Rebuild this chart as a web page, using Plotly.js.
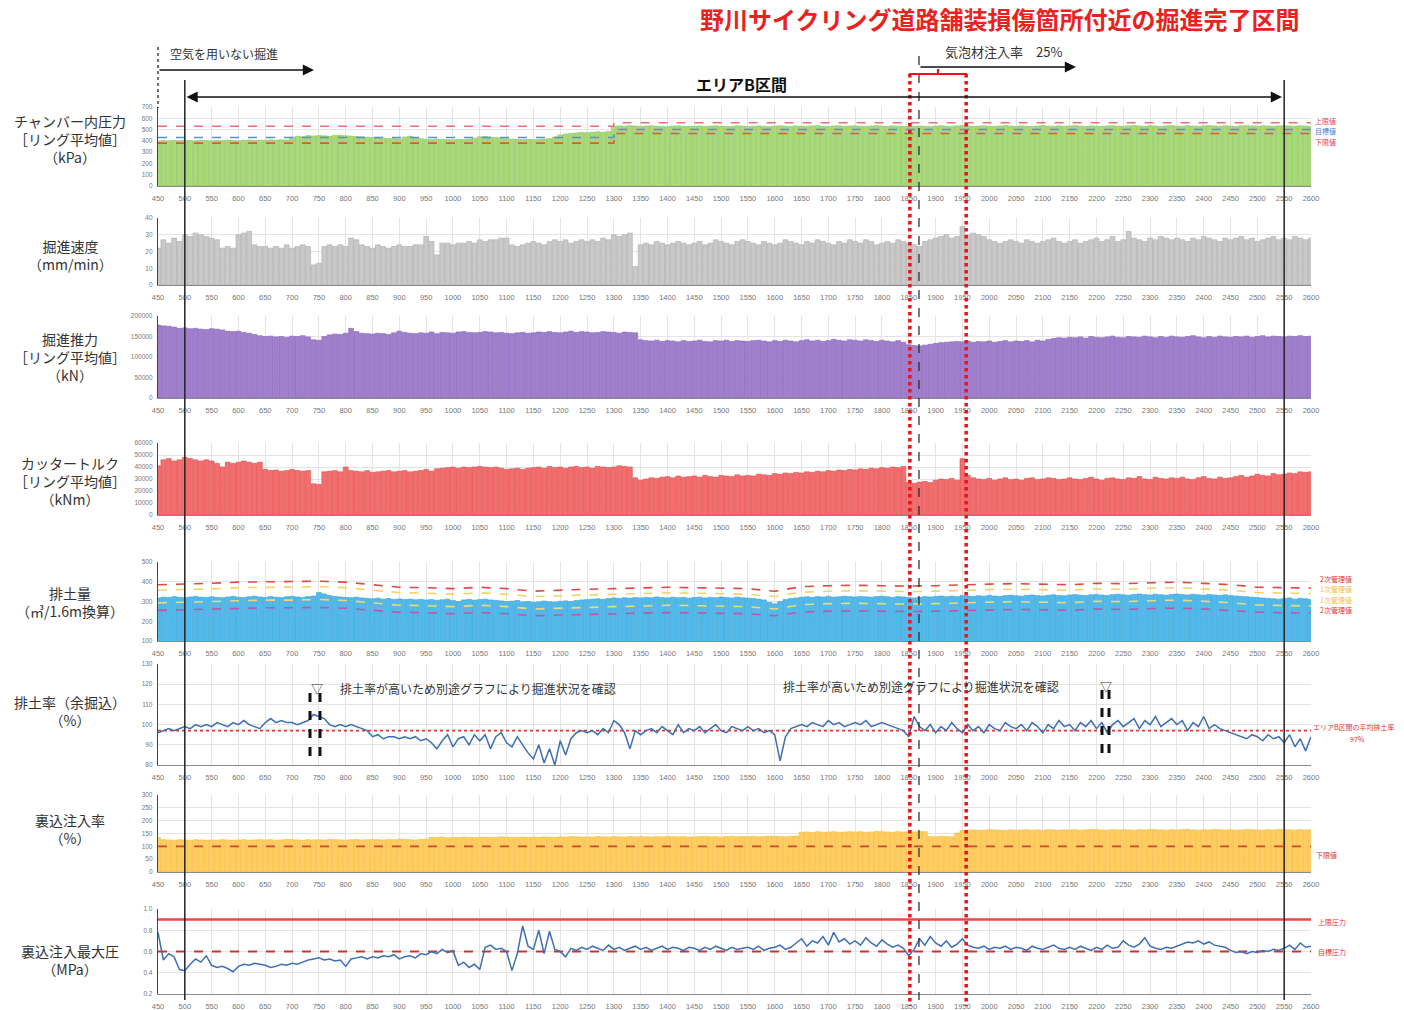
<!DOCTYPE html>
<html><head><meta charset="utf-8">
<script src="https://cdn.plot.ly/plotly-3.0.1.min.js"></script>
<style>html,body{margin:0;padding:0;background:#fff}#chart{width:1404px;height:1010px}</style>
</head><body><div id="chart"></div><script>
// ---------- DATA (one value per 10 rings, from ring 450 to 2600) ----------
const RING_START = 450, RING_STEP = 10;

const chamberPressure = [
395,402,398,404,400,406,401,399,405,402,
400,404,401,406,403,399,405,407,402,404,
405,408,404,410,407,432,441,437,446,443,
447,444,440,449,451,445,442,439,436,432,
430,427,424,421,419,417,434,441,426,420,
414,411,416,413,411,409,413,411,416,423,
436,439,433,430,424,419,415,413,411,414,
411,413,416,420,434,452,461,466,470,476,
472,477,481,476,483,528,533,530,535,532,
529,531,534,530,527,525,531,533,529,527,
530,532,528,531,534,530,527,529,533,531,
528,530,533,529,526,531,534,530,528,532,
531,529,533,535,530,528,532,534,529,531,
533,530,528,532,535,531,529,533,530,528,
526,529,532,530,527,531,534,530,528,533,
535,532,529,531,534,530,528,532,535,531,
529,533,530,528,532,535,531,529,533,530,
532,535,531,529,533,530,528,532,534,531,
529,533,536,532,530,534,531,529,533,535,
532,530,534,531,529,533,536,532,530,534,
531,529,533,535,532,530,534,531,529,533,
535,532,530,534,531,529];

const speed = [
22,27,25,28,26,30,29,31,30,29,
28,27,22,23,22,30,31,32,24,23,
23,22,23,22,24,22,23,24,23,12,
13,23,24,23,24,23,28,27,24,23,
22,24,23,22,23,24,23,23,24,24,
29,26,18,25,25,24,25,25,26,25,
27,26,27,27,28,28,24,23,24,25,
26,25,24,26,27,26,27,25,26,27,
26,27,26,28,27,30,29,30,31,11,
24,25,24,26,25,24,25,26,25,24,
25,26,24,25,27,26,25,24,26,27,
26,25,24,26,25,24,25,27,26,25,
24,26,25,27,26,25,24,26,25,27,
26,25,27,26,24,25,26,25,27,26,
25,24,23,26,27,28,29,30,28,29,
35,30,31,30,29,27,26,25,26,27,
26,25,27,26,25,26,27,28,26,25,
26,27,25,26,27,28,26,27,29,26,
27,32,28,27,26,28,27,29,28,27,
28,27,26,28,27,29,28,27,26,28,
27,28,29,27,28,26,27,28,29,27,
28,27,29,28,27,28];

const thrust = [
178000,176000,175000,173000,170000,171000,169000,170000,168000,167000,
169000,168000,166000,163000,162000,163000,160000,158000,155000,152000,
150000,151000,149000,150000,148000,151000,150000,152000,149000,142000,
141000,150000,154000,156000,155000,158000,170000,162000,158000,157000,
156000,158000,157000,155000,159000,163000,160000,158000,157000,159000,
158000,161000,157000,160000,159000,158000,161000,162000,160000,159000,
160000,162000,161000,159000,160000,158000,157000,159000,160000,158000,
159000,161000,160000,162000,160000,159000,161000,163000,160000,162000,
161000,159000,160000,162000,161000,160000,158000,161000,160000,159000,
142000,140000,139000,141000,138000,140000,139000,137000,140000,138000,
139000,141000,138000,137000,140000,139000,141000,138000,140000,139000,
138000,140000,141000,139000,137000,140000,138000,141000,139000,137000,
140000,142000,139000,141000,138000,140000,143000,141000,139000,142000,
141000,139000,142000,140000,138000,141000,139000,137000,140000,136000,
130000,128000,127000,129000,131000,133000,135000,136000,137000,138000,
137000,139000,136000,138000,137000,139000,136000,138000,140000,137000,
139000,138000,140000,137000,141000,139000,143000,145000,147000,146000,
148000,147000,149000,146000,150000,148000,147000,149000,151000,148000,
147000,150000,149000,148000,151000,149000,147000,150000,148000,151000,
149000,148000,150000,152000,149000,147000,150000,148000,151000,149000,
148000,150000,149000,151000,148000,150000,152000,149000,151000,150000,
149000,151000,150000,152000,150000,151000];

const torque = [
41000,46000,47000,45000,46000,48000,47000,46000,45000,46000,
45000,43000,40000,44000,43000,44000,45000,44000,43000,44000,
38000,37000,37500,36500,37000,38000,37000,36500,37000,26000,
25500,36000,36500,37000,36000,40000,37000,36500,36000,37000,
35500,36000,36500,37000,36000,36500,37000,36000,36500,37000,
38000,36500,38500,39000,39500,40000,39000,40000,39500,40000,
40500,40000,39500,40000,39000,38000,38500,39000,38000,39000,
39500,40000,39000,40500,39500,40000,39000,40000,40500,39500,
40000,39000,40500,40000,39500,40000,41000,40500,40000,31000,
29000,30000,31000,30500,31500,32000,31000,32500,31500,32000,
32500,31500,33000,32000,31500,33000,32500,32000,33500,32500,
33000,32500,34000,33500,33000,34500,34000,35000,34500,35500,
35000,36000,35500,36500,36000,37000,36500,37500,37000,38000,
37500,38500,38000,39000,38500,39500,39000,40000,39500,40500,
27000,26500,27500,28000,27000,29000,30000,29500,30500,29000,
47000,33000,31000,30000,29500,30500,29000,30000,31000,29500,
30000,29000,30500,31000,29500,30000,31000,30500,29500,30000,
31000,30000,29500,30500,31500,30000,29000,30500,31000,30000,
29500,31000,30500,32000,30000,29500,31500,30500,30000,31000,
30500,31500,30000,29500,31000,32000,30500,30000,31500,30500,
31000,32000,33000,31500,32500,34000,33000,32500,34500,33500,
34000,35000,34500,36000,35500,36000];

const muckVolume = [
318,322,320,325,321,319,323,326,322,320,
324,321,319,323,326,322,320,324,327,323,
321,325,322,320,324,326,323,321,325,328,
345,338,330,326,323,321,319,322,318,316,
314,317,312,315,311,313,310,312,309,311,
308,310,306,309,312,305,300,308,311,307,
310,312,308,306,303,300,302,305,298,300,
296,298,302,299,297,301,303,300,305,308,
310,312,314,311,315,318,316,319,317,320,
318,321,319,323,320,318,322,319,321,317,
320,322,318,321,319,323,320,318,322,319,
317,315,312,308,296,288,300,310,315,318,
322,324,321,325,323,326,322,324,327,325,
323,326,324,322,325,327,324,321,325,323,
320,318,322,325,323,326,328,324,327,325,
330,328,326,329,327,331,328,326,330,332,
329,327,331,333,330,328,332,334,331,329,
333,335,332,330,334,336,333,331,335,337,
334,332,336,338,335,333,337,334,332,336,
338,335,333,337,334,332,336,333,331,334,
330,328,326,324,322,320,318,316,314,312,
315,318,312,316,314,310];

const muckRatio = [
96,97,98,97,98,99,98,100,99,100,
99,101,100,99,101,100,102,100,99,98,
101,103,101,102,101,101,100,101,102,105,
104,103,100,99,100,99,100,99,98,97,
94,95,93,94,94,93,94,93,94,92,
93,91,88,92,95,89,93,94,90,95,
92,95,88,94,96,91,89,94,90,86,
83,90,81,88,80,92,85,93,96,97,
96,97,95,98,96,102,100,96,88,97,
95,97,98,96,99,97,95,100,96,98,
97,99,96,98,100,97,96,99,98,97,
99,97,98,96,97,95,82,94,98,99,
100,99,101,100,99,102,100,101,99,100,
101,100,102,99,100,101,100,99,98,97,
94,104,99,97,100,96,99,97,101,98,
96,100,97,99,96,100,98,97,101,99,
98,100,97,101,99,96,100,98,102,99,
100,97,101,99,102,98,101,96,100,102,
99,101,103,98,102,100,104,99,101,103,
100,102,97,101,99,104,98,100,98,97,
96,95,94,93,95,94,92,95,93,94,
91,95,89,93,87,94];

const groutRate = [
135,126,125,124,126,125,124,126,125,124,
125,124,126,125,124,125,126,124,125,126,
125,126,124,125,127,126,125,124,126,125,
126,125,127,126,125,124,126,127,125,126,
127,126,125,127,126,128,127,126,125,127,
128,135,134,136,133,135,134,136,135,134,
135,136,134,135,137,136,135,134,136,135,
136,135,137,136,135,137,136,138,137,136,
137,136,138,137,136,138,137,136,138,137,
138,137,136,138,137,139,138,137,138,136,
137,138,139,137,138,136,138,139,137,138,
138,139,137,138,140,139,138,137,139,140,
155,156,154,157,155,156,157,155,156,157,
156,157,155,156,158,157,156,155,157,156,
157,156,158,157,138,137,139,138,137,152,
162,163,164,162,163,165,164,163,162,164,
163,164,165,163,164,162,165,164,163,164,
164,165,163,164,166,165,164,163,165,164,
165,164,163,165,164,166,165,164,163,165,
164,165,166,164,163,165,164,166,165,164,
165,163,164,166,165,164,163,165,164,166,
165,164,163,165,164,165];

const groutPressure = [
0.78,0.52,0.58,0.55,0.43,0.42,0.48,0.53,0.50,0.56,
0.47,0.45,0.46,0.44,0.41,0.46,0.48,0.47,0.49,0.48,
0.47,0.45,0.46,0.48,0.47,0.49,0.48,0.50,0.52,0.53,
0.54,0.52,0.53,0.51,0.52,0.46,0.53,0.54,0.55,0.53,
0.55,0.54,0.56,0.55,0.57,0.53,0.55,0.56,0.54,0.58,
0.57,0.60,0.58,0.62,0.59,0.61,0.47,0.50,0.45,0.48,
0.43,0.64,0.66,0.62,0.63,0.60,0.42,0.58,0.84,0.65,
0.62,0.80,0.58,0.79,0.62,0.60,0.55,0.63,0.61,0.64,
0.62,0.65,0.63,0.61,0.66,0.62,0.64,0.61,0.63,0.65,
0.62,0.64,0.61,0.63,0.65,0.62,0.64,0.63,0.61,0.64,
0.63,0.61,0.64,0.62,0.65,0.63,0.61,0.64,0.62,0.63,
0.64,0.62,0.65,0.61,0.63,0.64,0.66,0.62,0.64,0.68,
0.72,0.65,0.70,0.68,0.74,0.66,0.78,0.69,0.72,0.67,
0.70,0.66,0.73,0.68,0.65,0.71,0.67,0.64,0.66,0.63,
0.56,0.62,0.72,0.66,0.74,0.68,0.65,0.70,0.64,0.67,
0.72,0.66,0.64,0.63,0.65,0.62,0.64,0.63,0.65,0.62,
0.64,0.63,0.61,0.65,0.63,0.62,0.64,0.66,0.63,0.62,
0.64,0.62,0.65,0.63,0.61,0.64,0.62,0.66,0.63,0.64,
0.70,0.66,0.64,0.67,0.73,0.65,0.63,0.62,0.64,0.63,
0.65,0.67,0.69,0.68,0.70,0.67,0.69,0.66,0.65,0.64,
0.61,0.59,0.60,0.58,0.60,0.59,0.61,0.60,0.62,0.61,
0.63,0.66,0.62,0.68,0.64,0.65];

// chamber pressure limits (step change at ring 1300)
const limitRings = [450, 1300, 2600];
const chamberUpper  = [530, 560, 560];
const chamberTarget = [430, 500, 500];
const chamberLower  = [380, 465, 465];

// muck volume management values, every 50 rings
const mgmtRings = [450,500,550,600,650,700,750,800,850,900,950,1000,1050,1100,1150,1200,1250,1300,1350,1400,
  1450,1500,1550,1600,1650,1700,1750,1800,1850,1900,1950,2000,2050,2100,2150,2200,2250,2300,2350,2400,2450,2500,2550,2600];
const muckUpper2 = [385,388,392,398,400,400,403,398,385,372,370,365,372,365,352,358,362,365,368,372,
  370,368,365,352,375,380,382,380,378,380,385,388,390,388,385,392,390,395,398,392,385,372,370,368];
const muckUpper1 = [357,360,364,370,372,372,375,370,357,345,342,337,344,337,325,330,334,337,340,344,
  342,340,337,325,347,352,354,352,350,352,357,360,362,360,357,364,362,367,370,364,357,345,342,340];
const muckLower1 = [293,296,300,305,307,307,310,305,293,281,279,274,281,274,262,267,271,274,277,281,
  279,277,274,262,284,289,291,289,287,289,294,297,299,297,294,301,299,304,307,301,294,282,279,277];
const muckLower2 = [255,258,262,266,268,268,270,266,255,245,243,238,244,238,228,232,236,238,241,244,
  243,241,238,228,247,251,253,251,249,251,255,258,260,258,255,262,260,264,267,262,255,246,243,241];

const avgMuckRatio = 97;
const groutLower = 100;
const pressureUpper = 0.9;
const pressureTarget = 0.6;

const xTicks = [];
for (let t = 450; t <= 2600; t += 50) xTicks.push(t);
const rings = chamberPressure.map((_, i) => RING_START + i * RING_STEP);

// ---------- LAYOUT HELPERS ----------
const W = 1404, H = 1010;
const px = v => v / W;
const py = v => 1 - v / H;
const XDOM = [px(158), px(1311)];
const JP = '"Noto Sans CJK JP", "Noto Sans", sans-serif';

const panels = [
  {top:107, bot:186, r:[0,700], d:100, fmt:'d'},
  {top:218, bot:285, r:[0,40], d:10, fmt:'d'},
  {top:316, bot:398, r:[0,200000], d:50000, fmt:'d'},
  {top:443, bot:515, r:[0,60000], d:10000, fmt:'d'},
  {top:562, bot:641, r:[100,500], d:100, fmt:'d'},
  {top:664, bot:765, r:[80,130], d:10, fmt:'d'},
  {top:795, bot:872, r:[0,300], d:50, fmt:'d'},
  {top:909, bot:994, r:[0.2,1.0], d:0.2, fmt:'.1f'}
];

const layout = {
  width: W, height: H, margin: {l:0, r:0, t:0, b:0},
  paper_bgcolor: '#fff', plot_bgcolor: '#fff',
  showlegend: false, bargap: 0.12,
  font: {family: JP, color: '#333'},
  shapes: [], annotations: []
};

panels.forEach((p, i) => {
  const n = i + 1;
  layout['xaxis' + n] = {
    domain: XDOM, range: [450, 2600], anchor: 'y' + n,
    tickvals: xTicks, ticktext: xTicks.map(String),
    showgrid: true, gridcolor: '#e4e4e4', gridwidth: 1,
    showline: true, linecolor: '#8a8a8a', linewidth: 1.2,
    ticks: 'outside', ticklen: 5, tickcolor: 'rgba(0,0,0,0)',
    tickfont: {size: 7.5, color: '#777', family: 'Liberation Sans, Arial, sans-serif'},
    zeroline: false, fixedrange: true
  };
  layout['yaxis' + n] = {
    domain: [py(p.bot), py(p.top)], range: p.r, anchor: 'x' + n,
    dtick: p.d, tick0: p.r[0], tickformat: p.fmt,
    showgrid: true, gridcolor: '#e4e4e4', gridwidth: 1,
    showline: true, linecolor: '#444', linewidth: 1.2,
    ticks: 'outside', ticklen: 3, tickcolor: 'rgba(0,0,0,0)',
    tickfont: {size: 6.5, color: '#777', family: 'Liberation Sans, Arial, sans-serif'},
    zeroline: false, fixedrange: true
  };
});

// ---------- TRACES ----------
const traces = [];
function bars(n, y, fill, edge) {
  traces.push({type:'bar', x: rings, y: y, xaxis:'x'+n, yaxis:'y'+n, width: 9,
    marker: {color: fill, line: {color: edge, width: 0.6}}, hoverinfo: 'skip'});
}
function ref(n, x, y, color, dash, width, shape) {
  traces.push({type:'scatter', mode:'lines', x: x, y: y, xaxis:'x'+n, yaxis:'y'+n,
    line: {color: color, dash: dash, width: width, shape: shape || 'linear'}, hoverinfo: 'skip'});
}
function series(n, y) {
  traces.push({type:'scatter', mode:'lines', x: rings, y: y, xaxis:'x'+n, yaxis:'y'+n,
    line: {color: '#3f6fb3', width: 1.5}, hoverinfo: 'skip'});
}

bars(1, chamberPressure, '#a9d97a', '#8dc55e');
ref(1, limitRings, chamberUpper, '#e8707c', 'dash', 1.6, 'hv');
ref(1, limitRings, chamberTarget, '#5b8fd0', 'dash', 1.6, 'hv');
ref(1, limitRings, chamberLower, '#e0583a', 'dash', 1.6, 'hv');

bars(2, speed, '#c9c9c9', '#ababab');
bars(3, thrust, '#a07fcd', '#8763ba');
bars(4, torque, '#f36e6e', '#e04a4a');

bars(5, muckVolume, '#52b9ea', '#35a3da');
ref(5, mgmtRings, muckUpper2, '#e04848', 'dash', 1.6);
ref(5, mgmtRings, muckUpper1, '#f3d36a', 'dash', 1.6);
ref(5, mgmtRings, muckLower1, '#e6dc78', 'dash', 1.6);
ref(5, mgmtRings, muckLower2, '#c453a8', 'dash', 1.6);

ref(6, [450, 2600], [avgMuckRatio, avgMuckRatio], '#e03838', 'dot', 1.6);
series(6, muckRatio);

bars(7, groutRate, '#ffcd60', '#f4ba3e');
ref(7, [450, 2600], [groutLower, groutLower], '#d2452e', 'dash', 1.8);

ref(8, [450, 2600], [pressureUpper, pressureUpper], '#e84848', 'solid', 2.5);
ref(8, [450, 2600], [pressureTarget, pressureTarget], '#c83434', 'dash', 2);
series(8, groutPressure);

// ---------- ANNOTATIONS / SHAPES ----------
const A = layout.annotations, S = layout.shapes;
function text(x, y, t, opt) {
  A.push(Object.assign({xref:'paper', yref:'paper', x: px(x), y: py(y), text: t, showarrow: false,
    xanchor: 'center', yanchor: 'middle', font: {size: 14, color: '#333', family: JP}}, opt || {}));
}
function arrow(xh, yh, xt, yt, both) {
  A.push({xref:'paper', yref:'paper', x: px(xh), y: py(yh), ax: xt - xh, ay: yt - yh,
    axref: 'pixel', ayref: 'pixel', text: '', showarrow: true, arrowhead: 2, arrowsize: 1.4,
    arrowwidth: 1.6, arrowcolor: '#111', arrowside: both ? 'end+start' : 'end', standoff: 0, startstandoff: 0});
}
function vline(xdata, y0, y1, color, width, dash) {
  S.push({type:'line', xref:'x', yref:'paper', x0: xdata, x1: xdata, y0: py(y0), y1: py(y1),
    line: {color: color, width: width, dash: dash || 'solid'}});
}
function pline(x0, y0, x1, y1, color, width, dash) {
  S.push({type:'line', xref:'paper', yref:'paper', x0: px(x0), x1: px(x1), y0: py(y0), y1: py(y1),
    line: {color: color, width: width, dash: dash || 'solid'}});
}

// title
text(1000, 18, '<b>野川サイクリング道路舗装損傷箇所付近の掘進完了区間</b>', {font: {size: 24, color: '#e8231f', family: JP}});

// no-air section
pline(158, 47, 158, 108, '#111', 1.2, '3px,3px');
arrow(314, 70, 158, 70, false);
text(168, 53, '空気を用いない掘進', {xanchor: 'left', font: {size: 12, color: '#333', family: JP}});

// area B
vline(500, 80, 1000, '#222', 1.5);
vline(2550, 80, 1000, '#222', 1.5);
arrow(1282, 97, 185, 97, true);
text(741, 84, '<b>エリアB区間</b>', {font: {size: 16, color: '#111', family: JP}});

// foam injection
vline(1869, 56, 1000, '#222', 1.2, 'dash');
arrow(1076, 67, 919, 67, false);
text(943, 51, '気泡材注入率　25%', {xanchor: 'left', font: {size: 13, color: '#333', family: JP}});

// red completed box
vline(1852, 74, 1006, '#e8141c', 3.5, 'dot');
vline(1957, 74, 1006, '#e8141c', 3.5, 'dot');
pline(909, 74, 967, 74, '#e8141c', 2.2);
pline(938, 69, 938, 74, '#e8141c', 2.2);

// left labels
const LX = 70;
text(LX, 139, 'チャンバー内圧力<br>［リング平均値］<br>（kPa）');
text(LX, 255, '掘進速度<br>（mm/min）');
text(LX, 357, '掘進推力<br>［リング平均値］<br>（kN）');
text(LX, 481, 'カッタートルク<br>［リング平均値］<br>（kNm）');
text(LX, 602, '排土量<br>（㎥/1.6m換算）');
text(LX, 711, '排土率（余掘込）<br>（%）');
text(LX, 829, '裏込注入率<br>（%）');
text(LX, 960, '裏込注入最大圧<br>（MPa）');

// right small legends
const small = (x, y, t, c) => text(x, y, t, {xanchor: 'left', font: {size: 7, color: c, family: JP}});
small(1313, 121, '上限値', '#e8404a');
small(1313, 131, '目標値', '#3f7fcf');
small(1313, 142, '下限値', '#e8404a');
small(1318, 579, '2次管理値', '#e03030');
small(1318, 589, '1次管理値', '#f0c040');
small(1318, 600, '1次管理値', '#f0c040');
small(1318, 610, '2次管理値', '#e03030');
small(1311, 727, 'エリアB区間の平均排土率', '#e03030');
text(1357, 739, '97%', {font: {size: 7, color: '#e03030', family: JP}});
small(1314, 855, '下限値', '#e03030');
small(1316, 922, '上限圧力', '#e03030');
small(1316, 952, '目標圧力', '#e03030');

// muck ratio notes
text(317, 688, '▽', {font: {size: 12, color: '#333', family: JP}});
text(338, 688, '排土率が高いため別途グラフにより掘進状況を確認', {xanchor: 'left', font: {size: 12, color: '#333', family: JP}});
text(1106, 686, '▽', {font: {size: 12, color: '#333', family: JP}});
text(781, 686, '排土率が高いため別途グラフにより掘進状況を確認', {xanchor: 'left', font: {size: 12, color: '#333', family: JP}});
pline(310, 693, 310, 760, '#111', 3, 'dash');
pline(320, 693, 320, 760, '#111', 3, 'dash');
pline(1102, 690, 1102, 758, '#111', 3, 'dash');
pline(1109, 690, 1109, 758, '#111', 3, 'dash');

Plotly.newPlot('chart', traces, layout, {staticPlot: true, displayModeBar: false});
</script></body></html>
